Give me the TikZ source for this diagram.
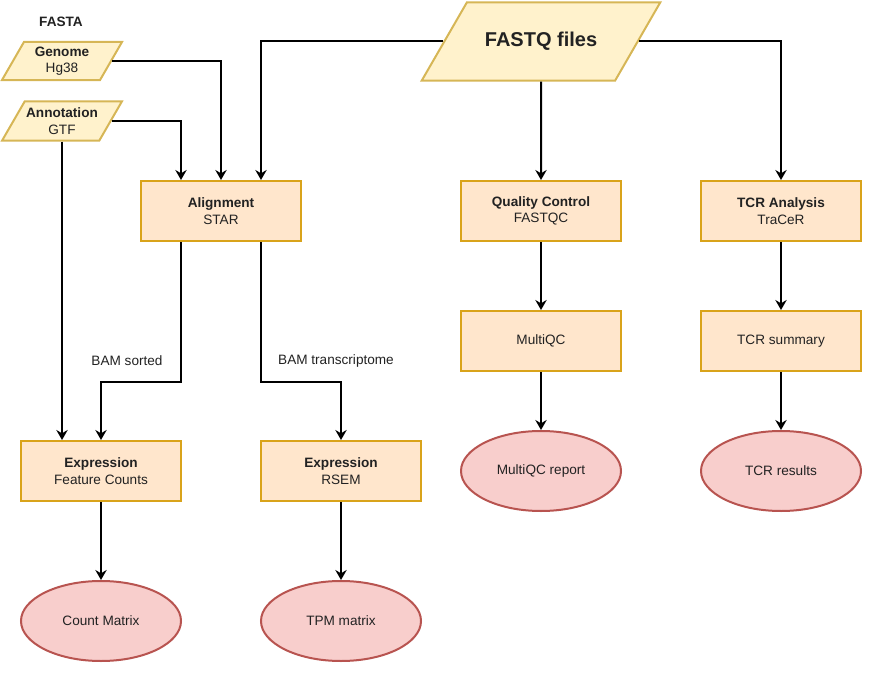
\documentclass[tikz,border=0pt]{standalone}
\usepackage{fontspec}
\setmainfont{Liberation Sans}
\usetikzlibrary{shapes.geometric,arrows.meta}
\definecolor{inFill}{HTML}{FFF2CC}
\definecolor{inLine}{HTML}{D6B656}
\definecolor{stepFill}{HTML}{FFE6CC}
\definecolor{stepLine}{HTML}{D9A31A}
\definecolor{outFill}{HTML}{F8CECC}
\definecolor{outLine}{HTML}{B85450}
\definecolor{txt}{HTML}{222222}
\begin{document}
\begin{tikzpicture}[x=0.75pt,y=-0.75pt,font=\fontsize{10.2}{12.5}\selectfont,text=txt]
\useasboundingbox (0,0) rectangle (889,681);
\tikzset{inputbox/.style={trapezium,trapezium left angle=60,trapezium right angle=120,trapezium stretches body=true,draw=inLine,fill=inFill,line width=1.5pt,align=center,inner xsep=0pt}};
\tikzset{stepbox/.style={rectangle,draw=stepLine,fill=stepFill,line width=1.5pt,minimum width=120pt,minimum height=45pt,align=center}};
\tikzset{result/.style={ellipse,draw=outLine,fill=outFill,line width=1.5pt,minimum width=120pt,minimum height=60pt}};
\tikzset{flow/.style={-{Stealth[length=7.5pt,width=8.5pt,inset=2.5pt]},line width=1.5pt}};

% inputs
\node[font=\fontsize{10.2}{12.5}\selectfont\bfseries] (fasta) at (61,22) {FASTA};
\node[inputbox,minimum width=90pt,inner ysep=3.4pt] (genome) at (62,61) {\textbf{Genome}\\Hg38};
\node[inputbox,minimum width=90pt,inner ysep=4.8pt] (annot) at (62,121) {\textbf{Annotation}\\GTF};
\node[inputbox,minimum width=179pt,inner ysep=22.5pt,font=\fontsize{15}{18}\selectfont\bfseries] (fastq) at (541,41.5) {FASTQ files};

% processing steps
\node[stepbox] (align) at (221,211) {\textbf{Alignment}\\STAR};
\node[stepbox] (qc) at (541,211) {\textbf{Quality Control}\\FASTQC};
\node[stepbox] (tcr) at (781,211) {\textbf{TCR Analysis}\\TraCeR};
\node[stepbox] (multiqc) at (541,341) {MultiQC};
\node[stepbox] (tcrsum) at (781,341) {TCR summary};
\node[stepbox] (exprfc) at (101,471) {\textbf{Expression}\\Feature Counts};
\node[stepbox] (exprrs) at (341,471) {\textbf{Expression}\\RSEM};

% outputs
\node[result] (count) at (101,621) {Count Matrix};
\node[result] (tpm) at (341,621) {TPM matrix};
\node[result] (mqcrep) at (541,471) {MultiQC report};
\node[result] (tcrres) at (781,471) {TCR results};

% labels
\node (bamsorted) at (127,361) {BAM sorted};
\node (bamtrans) at (336,361) {BAM transcriptome};

% connectors
\draw[flow] (genome.east) -| (align.north);
\draw[flow] (annot.east) -| ([xshift=-30pt]align.north);
\draw[flow] (fastq.west) -| ([xshift=30pt]align.north);
\draw[flow] (annot.south) -- (annot.south |- exprfc.north);
\draw[flow] ([xshift=-30pt]align.south) -- ++(0,140) -| (exprfc.north);
\draw[flow] ([xshift=30pt]align.south) -- ++(0,140) -| (exprrs.north);
\draw[flow] (fastq.south) -- (qc.north);
\draw[flow] (fastq.east) -| (tcr.north);
\draw[flow] (qc) -- (multiqc);
\draw[flow] (multiqc) -- (mqcrep);
\draw[flow] (tcr) -- (tcrsum);
\draw[flow] (tcrsum) -- (tcrres);
\draw[flow] (exprfc) -- (count);
\draw[flow] (exprrs) -- (tpm);
\end{tikzpicture}
\end{document}
